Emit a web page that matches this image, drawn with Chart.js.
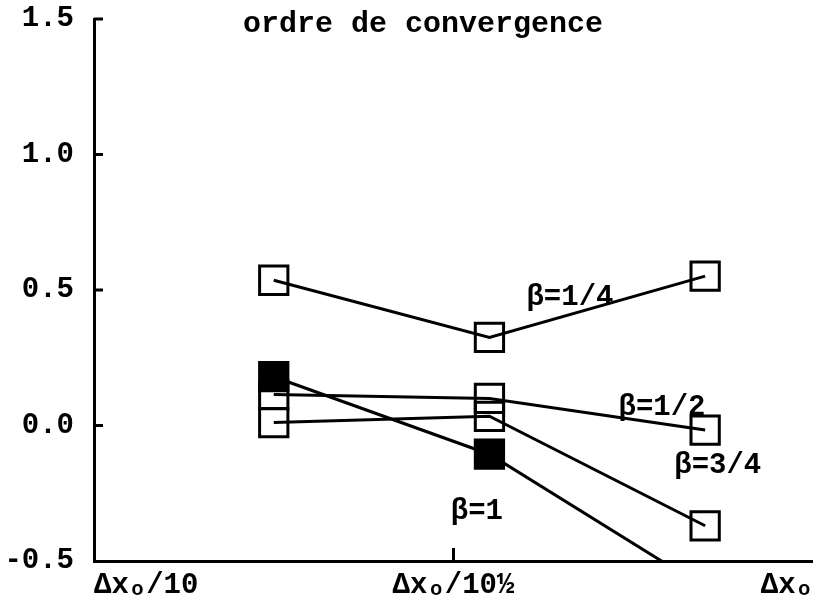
<!DOCTYPE html>
<html>
<head>
<meta charset="utf-8">
<script src="https://cdn.jsdelivr.net/npm/chart.js@4/dist/chart.umd.min.js"></script>
<style>
  html, body { margin: 0; padding: 0; background: #ffffff; }
  #wrap { width: 813px; height: 616px; }
</style>
</head>
<body>
<div id="wrap"><canvas id="c" width="813" height="616"></canvas></div>
<script>
// Step sizes on the horizontal axis (log-spaced, one unit = half a decade)
const stepPositions = [0, 1, 2];
const stepLabels = ['Δxₒ/10', 'Δxₒ/10½', 'Δxₒ'];

// Mesh sizes at which the convergence order was measured
const sampleX = [0.5, 1.1, 1.7];

// Measured order of convergence for each value of beta
const beta14 = [0.536, 0.325, 0.551];
const beta12 = [0.114, 0.100, -0.017];
const beta34 = [0.011, 0.034, -0.370];
const beta1  = [0.180, -0.106, -0.600];

// Vertical axis ticks
const yTicks = [-0.5, 0.0, 0.5, 1.0, 1.5];

const FONT = { family: "'Liberation Mono', 'DejaVu Sans Mono', monospace", size: 29, weight: 'bold' };
const INK = '#000000';

function series(values) {
  return values.map((v, i) => ({ x: sampleX[i], y: v }));
}

function lineDataset(label, values, filled, order) {
  return {
    label,
    data: series(values),
    order,
    borderColor: INK,
    borderWidth: 3,
    tension: 0,
    pointStyle: 'rect',
    pointRadius: 20,
    pointHoverRadius: 20,
    pointBorderWidth: 3,
    pointBorderColor: INK,
    pointBackgroundColor: filled ? INK : 'rgba(0,0,0,0)'
  };
}

// Inward tick marks on both axes
const axisMarks = {
  id: 'axisMarks',
  afterDatasetsDraw(chart) {
    const { ctx, scales: { x, y } } = chart;
    ctx.save();
    ctx.strokeStyle = INK;
    ctx.lineWidth = 3;
    ctx.beginPath();
    yTicks.forEach(v => {
      if (v === y.min) return;
      const py = y.getPixelForValue(v);
      ctx.moveTo(x.left, py);
      ctx.lineTo(x.left + 9, py);
    });
    const px = x.getPixelForValue(stepPositions[1]);
    ctx.moveTo(px, y.bottom);
    ctx.lineTo(px, y.bottom - 13);
    ctx.stroke();
    ctx.restore();
  }
};

// Title and curve labels placed in data coordinates
const textMarks = {
  id: 'textMarks',
  afterDatasetsDraw(chart, args, opts) {
    const { ctx, scales: { x, y } } = chart;
    ctx.save();
    ctx.fillStyle = INK;
    ctx.textAlign = 'center';
    ctx.textBaseline = 'middle';
    opts.items.forEach(it => {
      ctx.font = `${it.weight || FONT.weight} ${it.size || FONT.size}px ${FONT.family}`;
      ctx.fillText(it.text, x.getPixelForValue(it.x), y.getPixelForValue(it.y));
    });
    ctx.restore();
  }
};

new Chart(document.getElementById('c'), {
  type: 'line',
  data: {
    datasets: [
      lineDataset('β=1', beta1, true, 0),
      lineDataset('β=1/4', beta14, false, 1),
      lineDataset('β=1/2', beta12, false, 2),
      lineDataset('β=3/4', beta34, false, 3)
    ]
  },
  options: {
    responsive: false,
    devicePixelRatio: 1,
    animation: false,
    layout: { autoPadding: false, padding: { top: 19, right: 0, bottom: 0, left: 0 } },
    plugins: {
      legend: { display: false },
      tooltip: { enabled: false },
      title: { display: false },
      textMarks: {
        items: [
          { text: 'ordre de convergence', x: 0.915, y: 1.48, size: 30 },
          { text: 'β=1/4', x: 1.324, y: 0.472 },
          { text: 'β=1/2', x: 1.58, y: 0.066 },
          { text: 'β=3/4', x: 1.735, y: -0.148 },
          { text: 'β=1', x: 1.065, y: -0.317 }
        ]
      }
    },
    scales: {
      x: {
        type: 'linear',
        min: 0,
        max: 2,
        afterBuildTicks(scale) {
          scale.ticks = stepPositions.map(v => ({ value: v }));
        },
        afterFit(scale) {
          scale.height = 55;
          scale.paddingLeft = 0;
          scale.paddingRight = 0;
        },
        ticks: {
          align: 'inner',
          padding: 7,
          color: INK,
          font: FONT,
          maxRotation: 0,
          autoSkip: false,
          callback: v => stepLabels[stepPositions.indexOf(v)]
        },
        grid: { drawOnChartArea: false, drawTicks: false, color: 'rgba(0,0,0,0)' },
        border: { display: true, color: INK, width: 3 }
      },
      y: {
        type: 'linear',
        min: -0.5,
        max: 1.5,
        afterBuildTicks(scale) {
          scale.ticks = yTicks.map(v => ({ value: v }));
        },
        afterFit(scale) {
          scale.width = 94;
          scale.paddingTop = 0;
          scale.paddingBottom = 0;
        },
        ticks: {
          padding: 20,
          color: INK,
          font: FONT,
          callback: v => v.toFixed(1)
        },
        grid: { drawOnChartArea: false, drawTicks: false, color: 'rgba(0,0,0,0)' },
        border: { display: true, color: INK, width: 3 }
      }
    }
  },
  plugins: [axisMarks, textMarks]
});
</script>
</body>
</html>
